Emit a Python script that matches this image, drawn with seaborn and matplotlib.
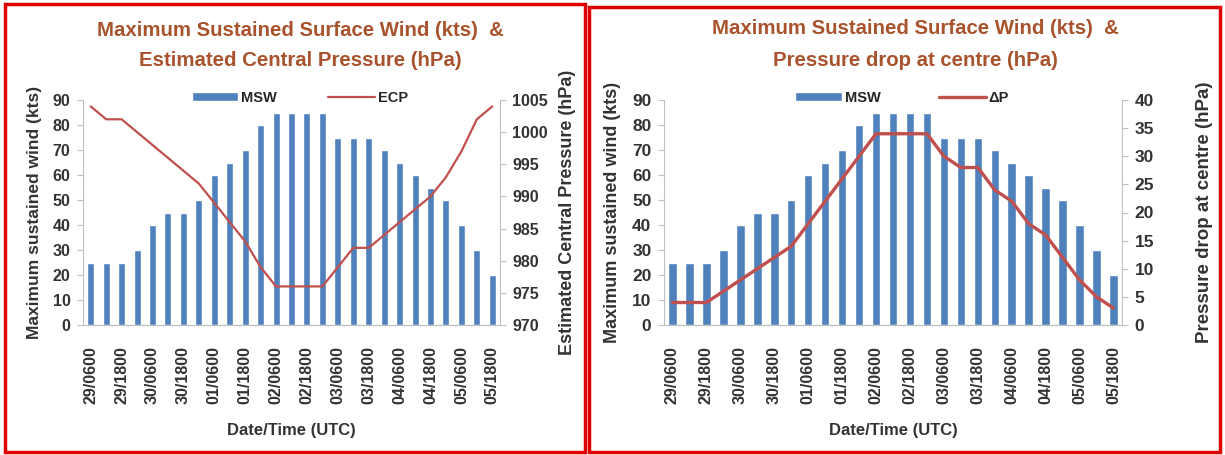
import numpy as np
import pandas as pd
import seaborn as sns
import matplotlib.pyplot as plt
from matplotlib.patches import Rectangle

# Data (6-hourly, 29/0600 to 05/1800 UTC)
times = ["29/0600", "29/1200", "29/1800", "30/0000", "30/0600", "30/1200", "30/1800",
         "01/0000", "01/0600", "01/1200", "01/1800", "02/0000", "02/0600", "02/1200",
         "02/1800", "03/0000", "03/0600", "03/1200", "03/1800", "04/0000", "04/0600",
         "04/1200", "04/1800", "05/0000", "05/0600", "05/1200", "05/1800"]
msw = [25, 25, 25, 30, 40, 45, 45, 50, 60, 65, 70, 80, 85, 85,
       85, 85, 75, 75, 75, 70, 65, 60, 55, 50, 40, 30, 20]
ecp = [1004, 1002, 1002, 1000, 998, 996, 994, 992, 989, 986, 983, 979, 976, 976,
       976, 976, 979, 982, 982, 984, 986, 988, 990, 993, 997, 1002, 1004]
dp = [4, 4, 4, 6, 8, 10, 12, 14, 18, 22, 26, 30, 34, 34,
      34, 34, 30, 28, 28, 24, 22, 18, 16, 12, 8, 5, 3]

df = pd.DataFrame({"time": times, "msw": msw, "ecp": ecp, "dp": dp})
df["pos"] = np.arange(len(df))

sns.set_style("white")
plt.rcParams['font.family'] = ['Liberation Sans', 'DejaVu Sans']

bar_color = "#4F81BD"
line_color = "#C0504D"
title_color = "#A8532C"
text_color = "#333333"
spine_color = "#BFBFBF"

fig = plt.figure(figsize=(12.25, 4.55), dpi=100)

# red panel frames
fig.patches.append(Rectangle((5 / 1225, 3 / 455), 580 / 1225, 448 / 455, transform=fig.transFigure,
                             fill=False, edgecolor="#E00000", linewidth=2.5))
fig.patches.append(Rectangle((589 / 1225, 3 / 455), 631 / 1225, 445 / 455, transform=fig.transFigure,
                             fill=False, edgecolor="#E00000", linewidth=2.5))


def style_axes(ax, ax2, ylabel, y2label, fs, lfs, pad2):
    for a in (ax, ax2):
        for s in ["top", "left", "right"]:
            a.spines[s].set_visible(False)
        a.spines["bottom"].set_color(spine_color)
    ax.spines["left"].set_visible(True)
    ax.spines["left"].set_color(spine_color)
    ax2.spines["right"].set_visible(True)
    ax2.spines["right"].set_color(spine_color)
    ax.set_xlim(-0.5, len(df) - 0.5)
    ax.set_ylim(0, 90)
    ax.set_yticks(range(0, 91, 10))
    ax.set_xticks(df["pos"][::2])
    ax.set_xticklabels(df["time"][::2], rotation=90, fontsize=11.5, fontweight="bold", color=text_color)
    ax.set_xticks(np.arange(-0.5, len(df), 1), minor=True)
    ax.tick_params(axis="x", which="major", length=0, pad=15)
    ax.tick_params(axis="x", which="minor", length=4, color="#F0C8A0")
    ax.tick_params(axis="y", length=4, color=spine_color, labelsize=fs, labelcolor=text_color, pad=5)
    ax2.tick_params(axis="y", length=4, color=spine_color, labelsize=fs, labelcolor=text_color, pad=5)
    for lab in ax.get_yticklabels() + ax2.get_yticklabels():
        lab.set_fontweight("bold")
    ax.set_xlabel("Date/Time (UTC)", fontsize=12, fontweight="bold", color=text_color, labelpad=14)
    ax.set_ylabel(ylabel, fontsize=lfs, fontweight="bold", color=text_color, labelpad=8)
    ax2.set_ylabel(y2label, fontsize=lfs + 0.5, fontweight="bold", color=text_color, labelpad=pad2)


# ---- left panel: MSW & ECP ----
ax1 = fig.add_axes([83 / 1225, 1 - 325 / 455, 417 / 1225, 225 / 455])
sns.barplot(data=df, x="time", y="msw", ax=ax1, color=bar_color, saturation=1, width=0.45, label="MSW")
ax1b = ax1.twinx()
sns.lineplot(data=df, x="pos", y="ecp", ax=ax1b, color=line_color, linewidth=1.6, label="ECP", legend=False)
ax1b.set_ylim(970, 1005)
ax1b.set_yticks(range(970, 1006, 5))
style_axes(ax1, ax1b, "Maximum sustained wind (kts)", "Estimated Central Pressure (hPa)", 11.5, 12.5, 8)
h1, l1 = ax1.get_legend_handles_labels()
h2, l2 = ax1b.get_legend_handles_labels()
ax1.legend(h1 + h2, l1 + l2, loc="center", bbox_to_anchor=(0.52, 1.01), ncol=2, frameon=False,
           handlelength=3.2, handleheight=0.6, columnspacing=3.5, handletextpad=0.2,
           prop={"weight": "bold", "size": 10.5})
fig.text(300 / 1225, 1 - 30 / 455, "Maximum Sustained Surface Wind (kts)  &", ha="center", va="center",
         fontsize=14.7, fontweight="bold", color=title_color)
fig.text(300 / 1225, 1 - 60 / 455, "Estimated Central Pressure (hPa)", ha="center", va="center",
         fontsize=14.7, fontweight="bold", color=title_color)

# ---- right panel: MSW & pressure drop ----
ax2 = fig.add_axes([664 / 1225, 1 - 325 / 455, 458 / 1225, 225 / 455])
sns.barplot(data=df, x="time", y="msw", ax=ax2, color=bar_color, saturation=1, width=0.5, label="MSW")
ax2b = ax2.twinx()
sns.lineplot(data=df, x="pos", y="dp", ax=ax2b, color=line_color, linewidth=2.4, label="\u0394P", legend=False)
ax2b.set_ylim(0, 40)
ax2b.set_yticks(range(0, 41, 5))
style_axes(ax2, ax2b, "Maximum sustained wind (kts)", "Pressure drop at centre (hPa)", 12.5, 13, 30)
h1, l1 = ax2.get_legend_handles_labels()
h2, l2 = ax2b.get_legend_handles_labels()
ax2.legend(h1 + h2, l1 + l2, loc="center", bbox_to_anchor=(0.52, 1.01), ncol=2, frameon=False,
           handlelength=3.2, handleheight=0.6, columnspacing=4.0, handletextpad=0.2,
           prop={"weight": "bold", "size": 10.5})
fig.text(915 / 1225, 1 - 29 / 455, "Maximum Sustained Surface Wind (kts)  &", ha="center", va="center",
         fontsize=14.7, fontweight="bold", color=title_color)
fig.text(915 / 1225, 1 - 60 / 455, "Pressure drop at centre (hPa)", ha="center", va="center",
         fontsize=14.7, fontweight="bold", color=title_color)

fig.savefig("out.png", dpi=100)
